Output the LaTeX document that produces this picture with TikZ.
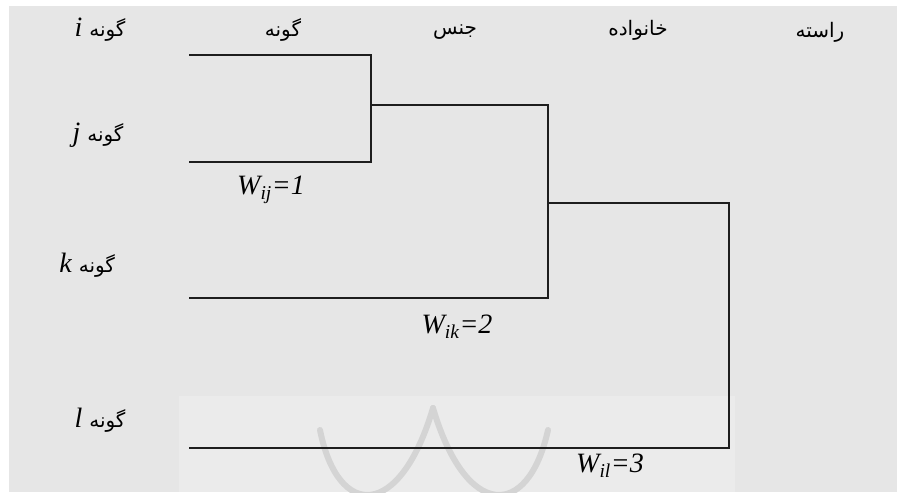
\documentclass[tikz,border=0pt]{standalone}
\usepackage{fontspec}
\setmainfont{Liberation Serif}
\newfontfamily\fa[Script=Arabic]{DejaVu Sans}
\TeXXeTstate=1
\definecolor{bgray}{HTML}{E6E6E6}
\definecolor{wmbox}{HTML}{EBEBEB}
\definecolor{wmark}{HTML}{D4D4D4}
\definecolor{ink}{HTML}{1E1E1E}
\newcommand{\faword}{\fa\fontsize{20}{22}\selectfont}
\begin{document}
\begin{tikzpicture}[x=1pt,y=-1pt,
  link/.style={draw=ink, line width=1.6pt},
  linkthin/.style={draw=ink, line width=1.2pt},
  head/.style={font=\faword, inner sep=0pt, anchor=center},
  leaf/.style={font=\fontsize{28}{30}\selectfont, inner sep=0pt, anchor=center},
  wlab/.style={font=\itshape\fontsize{28}{30}\selectfont, inner sep=0pt, anchor=center}]
\useasboundingbox (0,0) rectangle (897,493);
\fill[white] (0,0) rectangle (897,493);
\fill[bgray] (9,6) rectangle (897,492);
% watermark
\fill[wmbox] (179,396) rectangle (735,492);
\begin{scope}
\clip (179,396) rectangle (735,492);
\draw[wmark, line width=6pt, line cap=round] (320,430) .. controls (338,520) and (400,520) .. (433,408);
\draw[wmark, line width=6pt, line cap=round] (433,408) .. controls (466,520) and (528,520) .. (548,430);
\end{scope}
% headers
\node[head] (h1) at (283,30) {\beginR گونه\endR};
\node[head] (h2) at (455,32) {\beginR جنس\endR};
\node[head] (h3) at (638,30) {\beginR خانواده\endR};
\node[head] (h4) at (820,32) {\beginR راسته\endR};
% leaves
\node[leaf] (li) at (100,30) {\beginR{\faword گونه} \textit{i}\endR};
\node[leaf] (lj) at (98,135) {\beginR{\faword گونه} \textit{j}\endR};
\node[leaf] (lk) at (87,265) {\beginR{\faword گونه} \textit{k}\endR};
\node[leaf] (ll) at (100,420) {\beginR{\faword گونه} \textit{l}\endR};
% dendrogram coordinates
\coordinate (i0) at (189,55);
\coordinate (i1) at (371,55);
\coordinate (j0) at (189,162);
\coordinate (j1) at (371,162);
\coordinate (ij0) at (371,105);
\coordinate (ij1) at (548,105);
\coordinate (k0) at (189,298);
\coordinate (k1) at (548,298);
\coordinate (ik0) at (548,203);
\coordinate (ik1) at (729,203);
\coordinate (l0) at (189,448);
\coordinate (l1) at (729,448);
\draw[link] (i0) -- (i1) -- (j1) -- (j0);
\draw[link] (ij0) -- (ij1) -- (k1) -- (k0);
\draw[linkthin] (ik0) -- (ik1) -- (l1) -- (l0);
% weights
\node[wlab] (w1) at (271,190) {W\textsubscript{ij}=1};
\node[wlab] (w2) at (457,327) {W\textsubscript{ik}=2};
\node[wlab] (w3) at (610,466) {W\textsubscript{il}=3};
\end{tikzpicture}
\end{document}
